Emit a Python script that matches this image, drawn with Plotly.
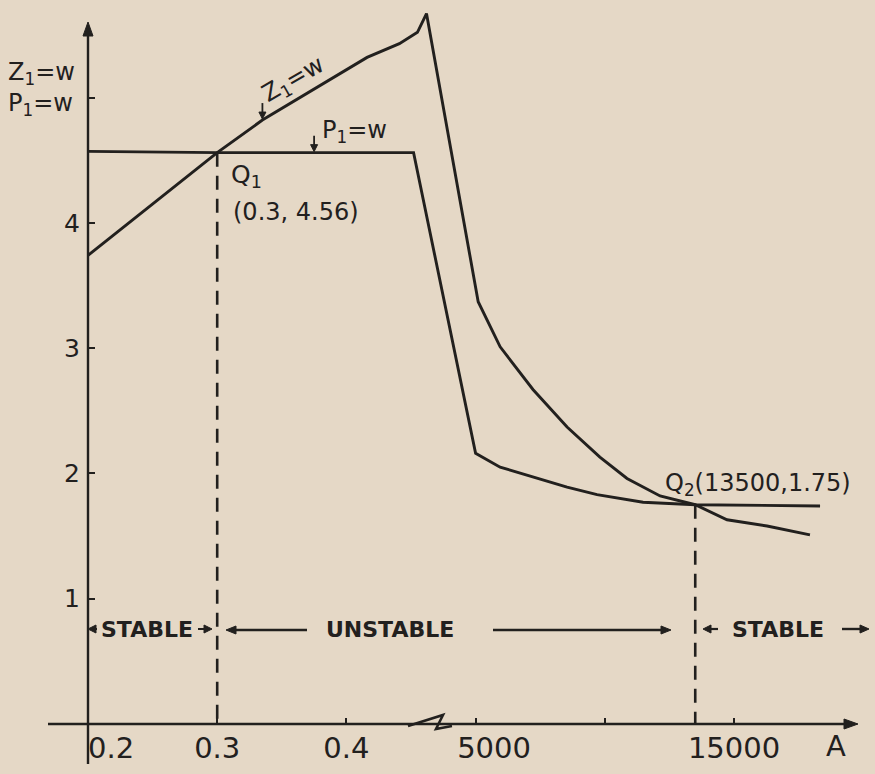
import math
import plotly.graph_objects as go

# ---------------- data ----------------
# left part of the broken A axis (0.2 .. 0.46), right part (5000 .. 18000)
z1_left_A = [0.2, 0.248, 0.277, 0.3, 0.335, 0.364, 0.390, 0.416, 0.441, 0.455, 0.462]
z1_left_v = [3.74, 4.13, 4.37, 4.56, 4.82, 5.00, 5.16, 5.32, 5.43, 5.52, 5.67]
z1_right_A = [5100, 5950, 7220, 8540, 9810, 10860, 12140, 13500, 14730, 16280, 17940]
z1_right_v = [3.37, 3.01, 2.67, 2.37, 2.13, 1.96, 1.82, 1.75, 1.63, 1.58, 1.51]

p1_left_A = [0.2, 0.3, 0.452]
p1_left_v = [4.57, 4.56, 4.56]
p1_right_A = [5000, 5950, 7220, 8540, 9700, 11480, 13500, 18330]
p1_right_v = [2.16, 2.05, 1.97, 1.89, 1.83, 1.77, 1.75, 1.74]

q1_point = (0.3, 4.56)
q2_point = (13500, 1.75)

x_tick_values = [0.2, 0.3, 0.4, 5000, 15000]
x_tick_labels = ["0.2", "0.3", "0.4", "5000", "15000"]
x_unlabeled_ticks = [10000]
y_tick_values = [1, 2, 3, 4]
y_tick_labels = ["1", "2", "3", "4"]
y_unlabeled_ticks = [5]


# ---------------- broken-axis scale ----------------
def to_u(a):
    """Broken A scale: 0.2,0.3,0.4 | break | 5000,10000,15000, equally spaced ticks."""
    if a < 1:
        return (a - 0.2) / 0.1
    return 3 + (a - 5000) / 5000


# ---------------- layout geometry ----------------
W, H = 875, 774
X_PX0, X_PX_PER_U = 88, 129.2      # pixel of u=0, pixels per u
Y_PX0, Y_PX_PER = 724, 125.3       # pixel of value 0, pixels per unit
x_range = [(0 - X_PX0) / X_PX_PER_U, (W - X_PX0) / X_PX_PER_U]
y_range = [(Y_PX0 - H) / Y_PX_PER, Y_PX0 / Y_PX_PER]


def px(xp):
    return xp / W


def py(yp):
    return 1 - yp / H


INK = "#22201e"
BG = "#e5d8c6"
FONT = "DejaVu Sans"
NB = "\u00a0"

fig = go.Figure()

z1_u = [to_u(a) for a in z1_left_A + z1_right_A]
z1_v = z1_left_v + z1_right_v
p1_u = [to_u(a) for a in p1_left_A + p1_right_A]
p1_v = p1_left_v + p1_right_v

fig.add_trace(go.Scatter(x=z1_u, y=z1_v, mode="lines", name="Z1=w",
                         line=dict(color=INK, width=2.9)))
fig.add_trace(go.Scatter(x=p1_u, y=p1_v, mode="lines", name="P1=w",
                         line=dict(color=INK, width=2.9)))

for (a, v) in (q1_point, q2_point):
    fig.add_trace(go.Scatter(x=[to_u(a), to_u(a)], y=[v, 0], mode="lines",
                             line=dict(color=INK, width=2.6, dash="14px,9px"),
                             showlegend=False))


# ---------------- arrows drawn as shapes (pixel geometry -> paper) ----------------
def arrow_shapes(x0, y0, x1, y1, head_len=11, half_w=4.5, width=2.6):
    dx, dy = x1 - x0, y1 - y0
    n = math.hypot(dx, dy)
    ux_, uy_ = dx / n, dy / n
    bx, by = x1 - head_len * ux_, y1 - head_len * uy_
    nx, ny = -uy_, ux_
    tri = (f"M {px(x1)},{py(y1)} L {px(bx + half_w * nx)},{py(by + half_w * ny)} "
           f"L {px(bx - half_w * nx)},{py(by - half_w * ny)} Z")
    return [
        dict(type="line", xref="paper", yref="paper", x0=px(x0), y0=py(y0),
             x1=px(bx + ux_), y1=py(by + uy_), line=dict(color=INK, width=width)),
        dict(type="path", xref="paper", yref="paper", path=tri,
             fillcolor=INK, line=dict(color=INK, width=1)),
    ]


shapes = []
# axes
shapes += arrow_shapes(48, Y_PX0, 858, Y_PX0, head_len=14, half_w=5, width=2.6)
shapes += arrow_shapes(X_PX0, 764, X_PX0, 22, head_len=14, half_w=5, width=2.4)
# break mark on the A axis
shapes.append(dict(type="path", xref="paper", yref="paper",
                   path=f"M {px(408)},{py(726)} L {px(443)},{py(715)} L {px(436)},{py(729)} "
                        f"L {px(452)},{py(726)}",
                   line=dict(color=INK, width=2.6)))

# small pointer arrows onto the curves
z1_ptr_u = to_u(0.335)
p1_ptr_u = to_u(0.375)
z1_ptr_px = X_PX0 + z1_ptr_u * X_PX_PER_U
p1_ptr_px = X_PX0 + p1_ptr_u * X_PX_PER_U
shapes += arrow_shapes(z1_ptr_px, Y_PX0 - 4.82 * Y_PX_PER - 17, z1_ptr_px,
                       Y_PX0 - 4.82 * Y_PX_PER - 1, head_len=7, half_w=3.5, width=1.8)
shapes += arrow_shapes(p1_ptr_px, Y_PX0 - 4.56 * Y_PX_PER - 17, p1_ptr_px,
                       Y_PX0 - 4.56 * Y_PX_PER - 1, head_len=7, half_w=3.5, width=1.8)

# stability-region arrows
LAB_Y = 629
shapes += arrow_shapes(97, LAB_Y, 88, LAB_Y, head_len=8, half_w=4, width=2)
shapes += arrow_shapes(198, LAB_Y, 212, LAB_Y, head_len=8, half_w=4, width=2)
shapes += arrow_shapes(307, LAB_Y + 1, 226, LAB_Y + 1, head_len=10, half_w=4, width=2.6)
shapes += arrow_shapes(493, LAB_Y + 1, 671, LAB_Y + 1, head_len=10, half_w=4, width=2.6)
shapes += arrow_shapes(718, LAB_Y, 703, LAB_Y, head_len=8, half_w=4, width=2.2)
shapes += arrow_shapes(842, LAB_Y, 869, LAB_Y, head_len=9, half_w=4, width=2.4)


# ---------------- text ----------------
def label(xp, yp, text, size=24, xanchor="center", yanchor="middle", angle=0, bold=False):
    f = dict(family=FONT, size=size, color=INK)
    if bold:
        f["weight"] = "bold"
    return dict(x=px(xp), y=py(yp), xref="paper", yref="paper", xanchor=xanchor,
                yanchor=yanchor, showarrow=False, text=text, textangle=angle, font=f,
                align="left")


ann = [
    label(6, 56, "Z<sub>1</sub>=w<br>P<sub>1</sub>=w", size=24, xanchor="left", yanchor="top"),
    label(836, 746, "A", size=29),
    label(293, 80, "Z<sub>1</sub>=w", size=24, angle=-30),
    label(320, 132, "P<sub>1</sub>=w", size=24, xanchor="left"),
    label(229, 176, "Q<sub>1</sub>", size=25, xanchor="left"),
    label(231, 212, "(0.3, 4.56)", size=24, xanchor="left"),
    label(663, 484, "Q<sub>2</sub>(13500,1.75)", size=24, xanchor="left"),
    label(147, LAB_Y, "STABLE", size=22, bold=True),
    label(390, LAB_Y, "UNSTABLE", size=22, bold=True),
    label(778, LAB_Y, "STABLE", size=22, bold=True),
]

# tick labels: hand lettering sits slightly right of the 0.2 and 5000 ticks
tick_text_drawn = [NB * 5 + t if t == "0.2" else (NB * 4 + t if t == "5000" else t)
                   for t in x_tick_labels]

tick_style = dict(ticks="inside", ticklen=6, tickwidth=2.4, tickcolor=INK)

fig.update_layout(
    width=W, height=H,
    margin=dict(l=0, r=0, t=0, b=0),
    paper_bgcolor=BG, plot_bgcolor=BG,
    showlegend=False,
    annotations=ann, shapes=shapes,
    xaxis=dict(domain=[0, 1], range=x_range, showgrid=False, zeroline=False, showline=False,
               anchor="free", position=py(Y_PX0),
               tickmode="array", tickvals=[to_u(a) for a in x_tick_values],
               ticktext=tick_text_drawn, ticklabelstandoff=4,
               minor=dict(tickmode="array", tickvals=[to_u(a) for a in x_unlabeled_ticks],
                          showgrid=False, **tick_style),
               tickfont=dict(family=FONT, size=29, color=INK), automargin=False,
               **tick_style),
    yaxis=dict(domain=[0, 1], range=y_range, showgrid=False, zeroline=False, showline=False,
               anchor="free", position=px(X_PX0),
               tickmode="array", tickvals=y_tick_values, ticktext=y_tick_labels,
               ticklabelstandoff=8,
               minor=dict(tickmode="array", tickvals=y_unlabeled_ticks,
                          showgrid=False, **tick_style),
               tickfont=dict(family=FONT, size=25, color=INK), automargin=False,
               **tick_style),
)

fig.write_html("out.html",
               config={"displayModeBar": False},
               post_script="document.body.style.margin='0';document.body.style.overflow='hidden';")
